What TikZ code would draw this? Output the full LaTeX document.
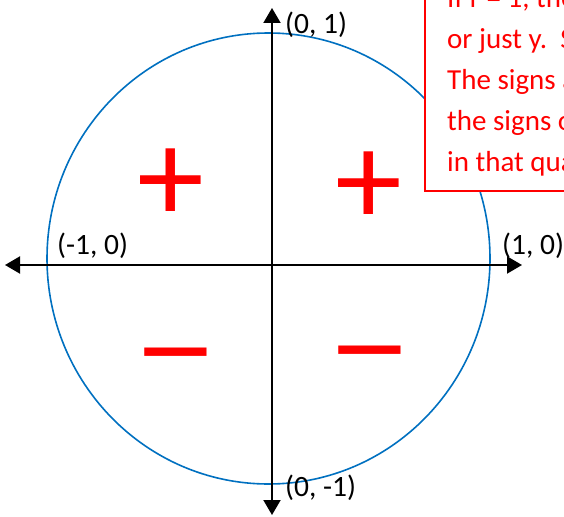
\documentclass[tikz,border=0pt]{standalone}
\usepackage{fontspec}
\setmainfont{Carlito}
\usetikzlibrary{arrows.meta}
\definecolor{UnitBlue}{HTML}{0070C0}
\definecolor{UnitRed}{HTML}{FF0000}
\tikzset{
  axis/.style={{Triangle[length=15pt,width=17pt]}-{Triangle[length=15pt,width=17pt]}, line width=2pt, draw=black},
  ring/.style={draw=UnitBlue, line width=1.6pt},
  point/.style={anchor=base west, inner sep=0pt, font=\fontsize{29.5}{34}\selectfont},
  sign/.style={anchor=base, inner sep=0pt, text=UnitRed, font=\fontsize{134}{140}\selectfont},
  note/.style={draw=UnitRed, line width=2pt, fill=white},
  notetext/.style={anchor=base west, inner sep=0pt, align=left, text=UnitRed,
                   font=\fontsize{29}{40.8}\selectfont},
}
\begin{document}
\begin{tikzpicture}[x=1pt,y=-1pt]
  \useasboundingbox (0,0) rectangle (564,516);
  \clip (0,0) rectangle (564,516);
  % unit circle
  \draw[ring] (268.5,258.5) ellipse [x radius=221.5, y radius=225.5];
  % axes
  \coordinate (west) at (5,265);
  \coordinate (east) at (522,265);
  \coordinate (north) at (272,8);
  \coordinate (south) at (272,515);
  \draw[axis] (west) -- (east);
  \draw[axis] (north) -- (south);
  \node[point] (top) at (285,34) {(0, 1)};
  \node[point] (bottom) at (285,496) {(0, -1)};
  \node[point] (left) at (57,254) {(-1, 0)};
  \node[point] (right) at (502,254) {(1, 0)};
  % quadrant signs
  \node[sign] (plusii) at (171,222) {+};
  \node[sign] (plusi) at (369,225) {+};
  \node[sign] (minusiii) at (176,389) {\scalebox{1.3}[1]{–}};
  \node[sign] (minusiv) at (370,387) {\scalebox{1.3}[1]{–}};
  % note box
  \draw[note] (425,-20) rectangle (600,191);
  \node[notetext] (note) at (447,171) {If r = 1, the\\or just y.\ \ S\\The signs a\\the signs o\\in that qua};
\end{tikzpicture}
\end{document}
